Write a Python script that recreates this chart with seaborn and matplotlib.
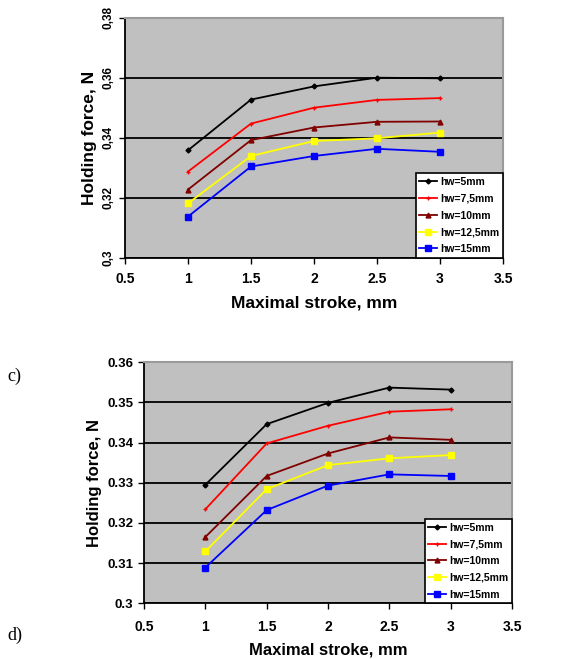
import matplotlib
matplotlib.use("Agg")
import matplotlib.pyplot as plt
import seaborn as sns
import pandas as pd

stroke = [1.0, 1.5, 2.0, 2.5, 3.0]
labels = ["hw=5mm", "hw=7,5mm", "hw=10mm", "hw=12,5mm", "hw=15mm"]
colors = ["#000000", "#ff0000", "#800000", "#ffff00", "#0000ff"]
markers = ["D", "+", "^", "s", "s"]
msizes = [2.5, 3.5, 3.5, 3.8, 3.8]

# panel c)
c_hw5 = [0.3358, 0.3527, 0.3571, 0.3600, 0.3598]
c_hw75 = [0.3287, 0.3447, 0.3500, 0.3526, 0.3532]
c_hw10 = [0.3227, 0.3392, 0.3434, 0.3453, 0.3454]
c_hw125 = [0.3181, 0.3339, 0.3389, 0.3398, 0.3417]
c_hw15 = [0.3137, 0.3304, 0.3339, 0.3363, 0.3353]

# panel d)
d_hw5 = [0.3295, 0.3446, 0.3499, 0.3537, 0.3532]
d_hw75 = [0.3234, 0.3398, 0.3442, 0.3477, 0.3483]
d_hw10 = [0.3165, 0.3317, 0.3373, 0.3413, 0.3407]
d_hw125 = [0.3129, 0.3284, 0.3344, 0.3361, 0.3369]
d_hw15 = [0.3089, 0.3232, 0.3293, 0.3321, 0.3317]

xticks = [0.5, 1.0, 1.5, 2.0, 2.5, 3.0, 3.5]
xticklabels = ["0.5", "1", "1.5", "2", "2.5", "3", "3.5"]
c_yticks = [0.30, 0.32, 0.34, 0.36, 0.38]
c_yticklabels = ["0,3", "0,32", "0,34", "0,36", "0,38"]
d_yticks = [0.30, 0.31, 0.32, 0.33, 0.34, 0.35, 0.36]
d_yticklabels = ["0.3", "0.31", "0.32", "0.33", "0.34", "0.35", "0.36"]

plt.rcParams["font.family"] = ["Liberation Sans", "DejaVu Sans"]

fig = plt.figure(figsize=(5.74, 6.59), dpi=100)
ax1 = fig.add_axes([125/574, 1-257.7/659, 378/574, 240/659])
ax2 = fig.add_axes([144/574, 1-603.3/659, 368/574, 241/659])


def draw(ax, series, yticks, yticklabels, ylim, rot, ytsize, labsize, tsize,
         xpad, xlabpad, ylabpad):
    rows = []
    for lab, vals in zip(labels, series):
        for x, v in zip(stroke, vals):
            rows.append({"stroke": x, "force": v, "series": lab})
    df = pd.DataFrame(rows)
    for lab, col, mk, ms in zip(labels, colors, markers, msizes):
        sub = df[df["series"] == lab]
        sns.lineplot(data=sub, x="stroke", y="force", ax=ax, color=col, marker=mk,
                     markersize=ms, markeredgecolor=col, markeredgewidth=1.0,
                     linewidth=1.3, label=lab)
    ax.set_facecolor("#c0c0c0")
    ax.set_xlim(0.5, 3.5)
    ax.set_ylim(*ylim)
    ax.set_axisbelow(True)
    ax.yaxis.grid(True, color="black", linewidth=1.3)
    ax.xaxis.grid(False)
    ax.set_xticks(xticks)
    ax.set_xticklabels(xticklabels, fontsize=tsize, fontweight="bold")
    ax.set_yticks(yticks)
    if rot:
        ax.set_yticklabels(yticklabels, fontsize=ytsize, fontweight="bold",
                           rotation=90, va="center")
    else:
        ax.set_yticklabels(yticklabels, fontsize=ytsize, fontweight="bold")
    ax.tick_params(axis="both", direction="out", length=4, width=1, color="black")
    ax.tick_params(axis="x", pad=xpad)
    for s in ["left", "bottom"]:
        ax.spines[s].set_color("black")
        ax.spines[s].set_linewidth(1.3)
    for s in ["top", "right"]:
        ax.spines[s].set_color("#9a9a9a")
        ax.spines[s].set_linewidth(1.5)
    ax.set_xlabel("Maximal stroke, mm", fontsize=labsize, fontweight="bold",
                  labelpad=xlabpad)
    ax.set_ylabel("Holding force, N", fontsize=labsize, fontweight="bold",
                  labelpad=ylabpad)
    leg = ax.legend(loc="lower right", fontsize=7.5, frameon=True, fancybox=False,
                    borderpad=0.35, labelspacing=0.65, handlelength=1.7,
                    handletextpad=0.3, borderaxespad=0.0, framealpha=1.0)
    leg.get_frame().set_edgecolor("black")
    leg.get_frame().set_linewidth(1.2)
    leg.get_frame().set_facecolor("white")
    for t in leg.get_texts():
        t.set_fontweight("bold")


draw(ax1, [c_hw5, c_hw75, c_hw10, c_hw125, c_hw15], c_yticks, c_yticklabels,
     (0.30, 0.38), True, 8.5, 12.5, 10, 6, 7, 4)
draw(ax2, [d_hw5, d_hw75, d_hw10, d_hw125, d_hw15], d_yticks, d_yticklabels,
     (0.30, 0.36), False, 9.5, 12, 10, 8, 6, 4)

fig.text(7/574, 1-376/659, "c)", fontsize=13, family=["Liberation Serif"],
         va="center", ha="left")
fig.text(7/574, 1-635/659, "d)", fontsize=13, family=["Liberation Serif"],
         va="center", ha="left")

fig.savefig("out.png", dpi=100)
